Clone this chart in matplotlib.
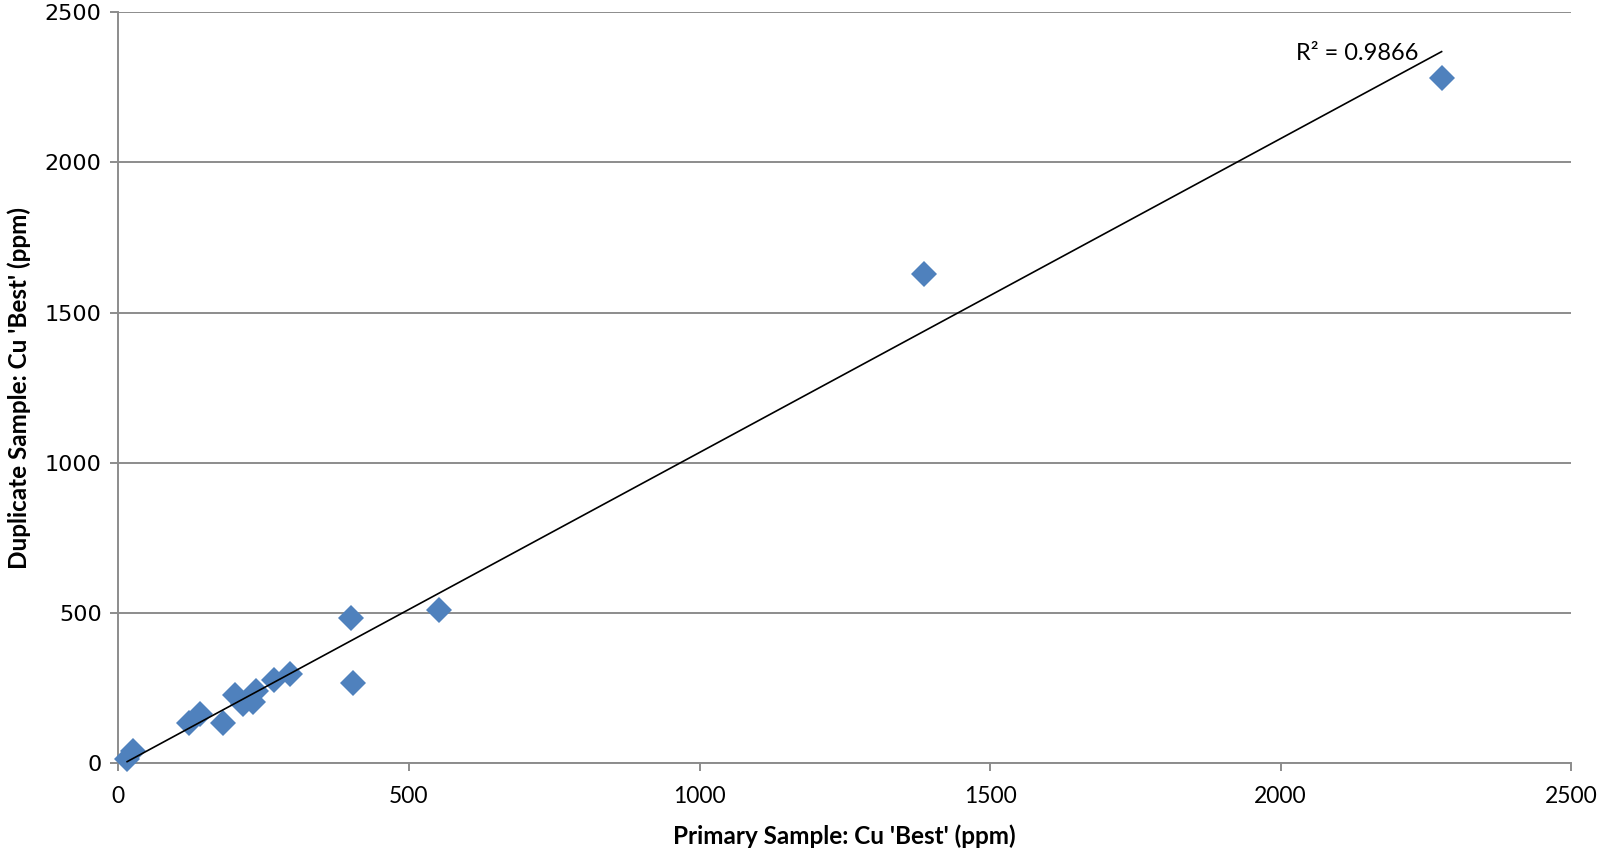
import numpy as np
import matplotlib
matplotlib.use("Agg")
import matplotlib.pyplot as plt

# Cu 'Best' (ppm), primary vs duplicate
primary = [15, 25, 122, 140, 180, 200, 215, 231, 237, 268, 296, 401, 403, 551, 1387, 2277]
duplicate = [15, 42, 133, 165, 133, 226, 196, 203, 242, 278, 296, 483, 267, 509, 1627, 2282]
r2_label = "R² = 0.9866"

x_ticks = [0, 500, 1000, 1500, 2000, 2500]
y_ticks = [0, 500, 1000, 1500, 2000, 2500]

grid_col = "#8c8c8c"
point_col = "#4f81bd"

fig = plt.figure(figsize=(16, 8.57), dpi=100)
ax = fig.add_axes([0.074, 0.1093, 0.908, 0.8765])

x = np.array(primary, dtype=float)
y = np.array(duplicate, dtype=float)

ax.plot(x, y, linestyle="none", marker="D", markersize=13,
        color=point_col, markeredgewidth=0, zorder=3, clip_on=False)

# linear trendline, drawn over the data range
m, b = np.polyfit(x, y, 1)
xs = np.array([x.min(), x.max()])
ax.plot(xs, m * xs + b, color="black", linewidth=1.2, zorder=4)

ax.text(2238, 2342, r2_label, ha="right", va="baseline",
        fontsize=17, family="Lato")

ax.set_xlim(0, 2500)
ax.set_ylim(0, 2500)
ax.set_xticks(x_ticks)
ax.set_yticks(y_ticks)

ax.yaxis.grid(True, color=grid_col, linewidth=1.4)
ax.set_axisbelow(True)
for side in ["top", "right"]:
    ax.spines[side].set_visible(False)
for side in ["left", "bottom"]:
    ax.spines[side].set_color(grid_col)
    ax.spines[side].set_linewidth(1.4)

ax.tick_params(axis="both", direction="out", length=6, width=1.4, color=grid_col)
ax.tick_params(axis="x", pad=10)
ax.tick_params(axis="y", pad=6)
for lab in ax.get_xticklabels():
    lab.set_family("Lato")
    lab.set_fontsize(16.5)
for lab in ax.get_yticklabels():
    lab.set_family("DejaVu Sans")
    lab.set_fontsize(16)

ax.set_xlabel("Primary Sample: Cu 'Best' (ppm)", family="Lato",
              fontweight="bold", fontsize=17.5, labelpad=13)
ax.set_ylabel("Duplicate Sample: Cu 'Best' (ppm)", family="Lato",
              fontweight="bold", fontsize=17.5, labelpad=10)

fig.savefig("out.png", dpi=100)
